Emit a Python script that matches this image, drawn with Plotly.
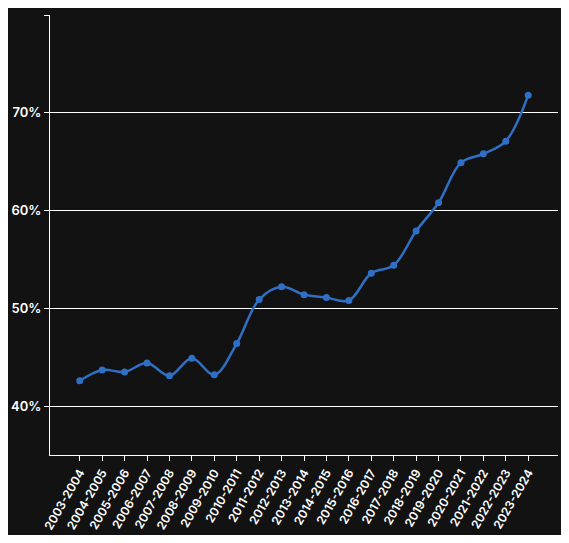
import plotly.graph_objects as go

years = ["2003-2004","2004-2005","2005-2006","2006-2007","2007-2008","2008-2009","2009-2010",
         "2010-2011","2011-2012","2012-2013","2013-2014","2014-2015","2015-2016","2016-2017",
         "2017-2018","2018-2019","2019-2020","2020-2021","2021-2022","2022-2023","2023-2024"]
values = [42.6,43.7,43.5,44.4,43.1,44.9,43.2,46.4,50.9,52.2,51.4,51.1,50.8,53.6,54.4,57.9,60.8,64.9,65.8,67.1,71.8]
y_ticks = [40, 50, 60, 70, 80]
y_labels = ["40%", "50%", "60%", "70%", "80%"]

fig = go.Figure(go.Scatter(
    x=years, y=values, mode="lines+markers",
    line=dict(color="#2f6fc6", width=2.5, shape="spline"),
    marker=dict(size=7, color="#2f6fc6"),
    hoverinfo="skip"))

fig.update_layout(
    width=553, height=527,
    paper_bgcolor="#121212", plot_bgcolor="#121212",
    margin=dict(l=32, r=3, t=7, b=80),
    showlegend=False,
    font=dict(family="Inter", color="#ffffff", size=12, weight=600),
    xaxis=dict(showgrid=False, tickangle=-60, ticks="outside", ticklen=5,
               tickcolor="#ffffff", showline=True, linecolor="#ffffff", linewidth=1,
               tickfont=dict(size=12, color="#ffffff", weight=600)),
    yaxis=dict(range=[35, 80], tickvals=y_ticks, ticktext=y_labels,
               gridcolor="#ffffff", gridwidth=1, zeroline=False,
               showline=True, linecolor="#ffffff", ticks="outside", ticklen=5, tickcolor="#ffffff",
               tickfont=dict(size=13, color="#ffffff", weight=600)),
)
fig.write_html("out.html")
